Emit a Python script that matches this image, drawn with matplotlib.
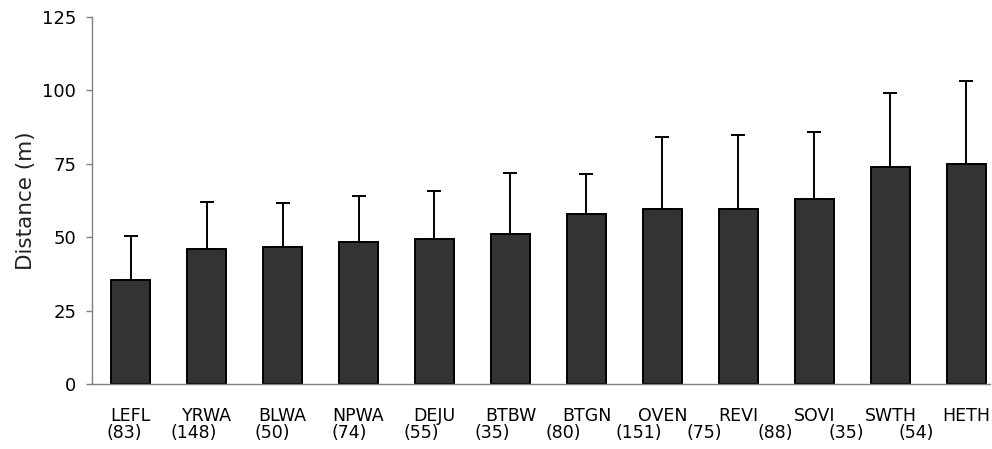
import numpy as np
import matplotlib
matplotlib.use("Agg")
from matplotlib import pyplot as plt

# species codes, sample sizes, mean distance and upper error
species = ["LEFL", "YRWA", "BLWA", "NPWA", "DEJU", "BTBW",
           "BTGN", "OVEN", "REVI", "SOVI", "SWTH", "HETH"]
n_obs = [83, 148, 50, 74, 55, 35, 80, 151, 75, 88, 35, 54]
mean_dist = [35.4, 45.9, 46.8, 48.3, 49.3, 51.0, 57.8, 59.5, 59.7, 63.1, 74.0, 74.9]
upper_err = [15.0, 16.1, 15.0, 15.8, 16.3, 20.9, 13.6, 24.5, 25.0, 22.7, 25.1, 28.3]
yticks = [0, 25, 50, 75, 100, 125]

# n labels sit a little left of each bar in the original (pixel offsets)
n_label_dx = [-6.5, -12.5, -10.5, -9.5, -13.5, -18.5, -23.5, -23.5, -34.5, -39.5, -44.5, -50.5]

plt.rcParams["font.family"] = ["DejaVu Sans"]

fig = plt.figure(figsize=(9.92, 4.49), dpi=100)
ax = fig.add_axes([92 / 992, 1 - 384 / 449, (990 - 92) / 992, (384 - 17) / 449])

x = np.arange(len(species))
ax.bar(x, mean_dist, width=0.513, color="#333333", edgecolor="black", linewidth=1.4, zorder=2)
ax.errorbar(x, mean_dist, yerr=[np.zeros(len(x)), upper_err], fmt="none",
            ecolor="black", elinewidth=1.4, capsize=5, capthick=1.4, zorder=1)

ax.set_xlim(-0.507, 11.31)
ax.set_ylim(0, 125)
ax.set_yticks(yticks)
ax.tick_params(axis="y", labelsize=13, length=4.3, width=1, color="#808080", pad=7)
ax.set_xticks(x)
ax.set_xticklabels(species, fontsize=12.5)
ax.tick_params(axis="x", length=0, pad=16.5)

for side in ["top", "right"]:
    ax.spines[side].set_visible(False)
for side in ["left", "bottom"]:
    ax.spines[side].set_color("#808080")
    ax.spines[side].set_linewidth(1)

ax.set_ylabel("Distance (m)", fontsize=15.5, labelpad=4, color="#222222")

px_per_unit = 76.0
for i, n in enumerate(n_obs):
    ax.annotate("(%d)" % n, xy=(i + n_label_dx[i] / px_per_unit, 0),
                xycoords=("data", "axes fraction"),
                xytext=(0, -29), textcoords="offset points",
                ha="center", va="top", fontsize=12.5)

fig.savefig("out.png", dpi=100)
